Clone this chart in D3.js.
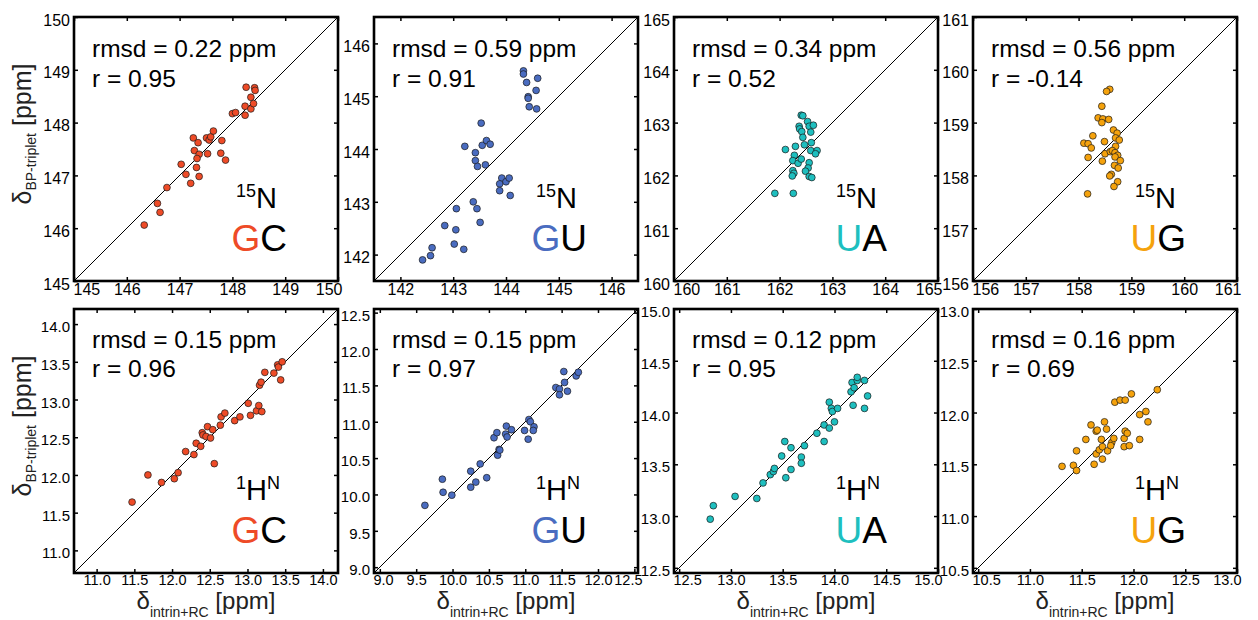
<!DOCTYPE html>
<html>
<head>
<meta charset="utf-8">
<script src="https://cdn.jsdelivr.net/npm/d3@7"></script>
<style>
    body { margin: 0; background: white; }
    text { font-family: "Liberation Sans", Arial, sans-serif; }
</style>
</head>
<body>
<div id="chart"></div>
<script>
// base pairs, colours and statistics, one entry per column
const pairs = ["GC", "GU", "UA", "UG"]
const pairColors = ["#ee4b27", "#4a6cc0", "#1ebfbf", "#f5a20c"]
const rmsdN = [0.22, 0.59, 0.34, 0.56]
const rN = [0.95, 0.91, 0.52, -0.14]
const rmsdH = [0.15, 0.15, 0.12, 0.16]
const rH = [0.96, 0.97, 0.95, 0.69]

// axis limits and tick labels
const limitsN = [[145, 150], [141.5, 146.5], [160, 165], [156, 161]]
const limitsH = [[10.7, 14.2], [8.92, 12.55], [12.45, 15.0], [10.45, 13.0]]
const ticksN = [
    [145, 146, 147, 148, 149, 150],
    [142, 143, 144, 145, 146],
    [160, 161, 162, 163, 164, 165],
    [156, 157, 158, 159, 160, 161]
]
const ticksH = [
    [11.0, 11.5, 12.0, 12.5, 13.0, 13.5, 14.0],
    [9.0, 9.5, 10.0, 10.5, 11.0, 11.5, 12.0, 12.5],
    [12.5, 13.0, 13.5, 14.0, 14.5, 15.0],
    [10.5, 11.0, 11.5, 12.0, 12.5, 13.0]
]

// [delta intrin+RC, delta BP-triplet]
const gcN = [[146.33,146.06],[146.58,146.47],[146.63,146.30],[146.76,146.77],[147.03,147.21],[147.12,147.02],[147.21,146.85],[147.37,146.98],[147.26,147.71],[147.35,147.62],[147.28,147.47],[147.37,147.40],[147.33,147.32],[147.32,147.15],[147.53,147.41],[147.51,147.71],[147.56,147.67],[147.59,147.73],[147.64,147.84],[147.80,147.66],[147.78,147.42],[147.87,147.29],[148.00,148.17],[148.06,148.19],[148.24,148.14],[148.24,148.31],[148.35,148.26],[148.35,148.48],[148.40,148.36],[148.26,148.67],[148.42,148.66],[148.43,148.61]]
const guN = [[142.42,141.90],[142.57,141.98],[142.60,142.13],[142.84,142.55],[143.05,142.47],[143.02,142.20],[143.06,142.87],[143.20,142.10],[143.38,143.00],[143.45,142.87],[143.51,142.61],[143.22,144.05],[143.42,143.93],[143.42,143.78],[143.46,143.67],[143.53,144.49],[143.55,144.07],[143.63,144.16],[143.70,144.09],[143.61,143.70],[143.92,143.45],[143.88,143.34],[143.88,143.21],[144.00,143.38],[144.06,143.45],[144.08,143.12],[144.33,145.48],[144.33,145.42],[144.39,145.26],[144.42,144.99],[144.42,144.96],[144.44,144.80],[144.60,145.34],[144.57,145.11],[144.58,144.76]]
const uaN = [[161.91,161.66],[162.26,161.66],[162.11,162.49],[162.41,163.14],[162.44,163.13],[162.53,163.02],[162.37,162.93],[162.38,162.88],[162.42,162.83],[162.56,162.93],[162.64,162.95],[162.59,162.82],[162.44,162.72],[162.30,162.55],[162.47,162.58],[162.60,162.62],[162.59,162.47],[162.71,162.47],[162.68,162.41],[162.28,162.38],[162.25,162.28],[162.35,162.23],[162.41,162.31],[162.56,162.24],[162.54,162.14],[162.49,162.08],[162.25,162.09],[162.27,162.04],[162.24,161.99],[162.56,161.98],[162.61,161.96]]
const ugN = [[158.17,157.65],[158.59,159.63],[158.53,159.59],[158.44,159.31],[158.37,159.09],[158.46,159.07],[158.57,159.06],[158.44,159.00],[158.66,158.86],[158.73,158.80],[158.70,158.71],[158.77,158.67],[158.27,158.75],[158.10,158.61],[158.18,158.60],[158.24,158.52],[158.49,158.64],[158.18,158.34],[158.50,158.41],[158.60,158.45],[158.70,158.55],[158.64,158.47],[158.69,158.43],[158.74,158.38],[158.69,158.35],[158.79,158.28],[158.45,158.27],[158.68,158.19],[158.75,158.14],[158.62,158.02],[158.59,157.99],[158.74,157.88],[158.67,157.79]]
const gcH = [[11.47,11.64],[11.68,12.00],[11.86,11.90],[12.03,11.95],[12.08,12.03],[12.18,12.31],[12.29,12.27],[12.32,12.42],[12.38,12.38],[12.40,12.56],[12.41,12.53],[12.47,12.64],[12.54,12.60],[12.45,12.51],[12.51,12.49],[12.56,12.15],[12.64,12.66],[12.65,12.77],[12.70,12.82],[12.83,12.72],[12.90,12.77],[13.01,12.95],[13.04,12.79],[13.12,12.85],[13.15,12.92],[13.19,12.84],[13.16,13.19],[13.18,13.23],[13.23,13.36],[13.35,13.35],[13.40,13.46],[13.41,13.43],[13.46,13.50],[13.44,13.26]]
const guH = [[9.62,9.85],[9.86,10.21],[9.87,10.03],[9.99,9.99],[10.25,10.32],[10.25,10.10],[10.32,10.17],[10.38,10.42],[10.47,10.23],[10.57,10.78],[10.61,10.85],[10.62,10.54],[10.64,10.62],[10.65,10.61],[10.74,10.94],[10.73,10.83],[10.75,10.79],[10.81,10.89],[10.99,10.88],[11.04,10.76],[11.05,11.03],[11.07,11.00],[11.12,10.93],[11.11,10.88],[11.42,11.47],[11.47,11.45],[11.47,11.37],[11.53,11.69],[11.54,11.54],[11.58,11.42],[11.70,11.63],[11.73,11.68]]
const uaH = [[12.80,12.97],[12.83,13.10],[13.04,13.19],[13.25,13.17],[13.31,13.32],[13.38,13.40],[13.41,13.43],[13.42,13.46],[13.49,13.58],[13.52,13.72],[13.53,13.37],[13.58,13.66],[13.58,13.45],[13.68,13.57],[13.68,13.51],[13.71,13.68],[13.83,13.80],[13.90,13.88],[13.90,13.72],[13.95,13.85],[13.95,14.10],[13.97,14.04],[13.98,14.01],[14.03,14.04],[14.00,13.91],[14.16,14.20],[14.17,14.29],[14.18,14.07],[14.19,14.24],[14.22,14.31],[14.22,14.34],[14.29,14.31],[14.29,14.04],[14.32,14.16]]
const ugH = [[11.31,11.48],[11.42,11.49],[11.45,11.44],[11.45,11.63],[11.54,11.74],[11.59,11.88],[11.62,11.50],[11.64,11.82],[11.65,11.83],[11.64,11.60],[11.67,11.64],[11.69,11.74],[11.70,11.67],[11.72,11.91],[11.70,11.55],[11.75,11.63],[11.74,11.84],[11.79,11.71],[11.78,11.68],[11.81,11.75],[11.82,12.10],[11.87,12.12],[11.92,12.12],[11.98,12.18],[11.91,11.75],[11.92,11.82],[11.91,11.67],[11.94,11.80],[11.96,11.68],[12.06,11.74],[12.06,11.98],[12.12,12.01],[12.14,11.91],[12.23,12.22]]

const rows = [
    { nucleus: "N", data: [gcN, guN, uaN, ugN], limits: limitsN, ticks: ticksN, rmsd: rmsdN, r: rN, fmt: d3.format("d"), fsY: 16, fsX: 16 },
    { nucleus: "H", data: [gcH, guH, uaH, ugH], limits: limitsH, ticks: ticksH, rmsd: rmsdH, r: rH, fmt: d3.format(".1f"), fsY: 15, fsX: 14.5 }
]

const width = 1258
const height = 620
const size = 264
const colX = [74, 374, 674, 973]
const rowY = [17, 309]

const svg = d3.select("#chart")
    .append("svg")
    .attr("width", width)
    .attr("height", height)

rows.forEach((row, ri) => {
    row.data.forEach((points, ci) => {
        const lim = row.limits[ci]
        const x = d3.scaleLinear().domain(lim).range([0, size])
        const y = d3.scaleLinear().domain(lim).range([size, 0])

        const g = svg.append("g")
            .attr("transform", `translate(${colX[ci]},${rowY[ri]})`)

        const clipId = `clip-${ri}-${ci}`
        g.append("clipPath").attr("id", clipId)
            .append("rect").attr("width", size).attr("height", size)

        g.append("rect")
            .attr("width", size).attr("height", size)
            .attr("fill", "white")

        // y = x reference line
        g.append("line")
            .attr("clip-path", `url(#${clipId})`)
            .attr("x1", x(lim[0])).attr("y1", y(lim[0]))
            .attr("x2", x(lim[1])).attr("y2", y(lim[1]))
            .attr("stroke", "black")
            .attr("stroke-width", 1)

        g.append("g")
            .attr("clip-path", `url(#${clipId})`)
            .selectAll("circle")
            .data(points)
            .join("circle")
            .attr("cx", d => x(d[0]))
            .attr("cy", d => y(d[1]))
            .attr("r", 3.4)
            .attr("fill", pairColors[ci])
            .attr("stroke", "#1a1a1a")
            .attr("stroke-width", 0.7)

        // axes: inward ticks on all four sides, labels left and bottom
        const tv = row.ticks[ci]
        const styleAxis = (a, fs) => {
            a.select(".domain").remove()
            a.selectAll(".tick line").attr("stroke", "black").attr("stroke-width", 1.5)
            a.selectAll("text")
                .attr("font-size", fs)
                .attr("font-family", "'Liberation Sans', Arial, sans-serif")
                .attr("fill", "black")
        }
        g.append("g")
            .call(d3.axisLeft(y).tickValues(tv).tickFormat(row.fmt).tickSizeInner(-4).tickSizeOuter(0).tickPadding(4))
            .call(styleAxis, row.fsY)
            .call(a => a.selectAll("text").attr("dy", "0.5em"))
        g.append("g")
            .attr("transform", `translate(0,${size})`)
            .call(d3.axisBottom(x).tickValues(tv).tickFormat(row.fmt).tickSizeInner(-4).tickSizeOuter(0).tickPadding(ri == 0 ? 3 : 2))
            .call(styleAxis, row.fsX)
            // labels sitting on a corner are pulled inside, clear of the y labels
            .call(a => a.selectAll(".tick text")
                .filter(d => x(d) < 10)
                .attr("text-anchor", "start")
                .attr("x", d => -x(d) - 1))
            .call(a => a.selectAll(".tick text")
                .filter(d => x(d) > size - 6)
                .attr("text-anchor", "end")
                .attr("x", d => size - x(d) + 4))
        g.append("g")
            .call(d3.axisTop(x).tickValues(tv).tickFormat("").tickSizeInner(-4).tickSizeOuter(0))
            .call(styleAxis, row.fsX)
        g.append("g")
            .attr("transform", `translate(${size},0)`)
            .call(d3.axisRight(y).tickValues(tv).tickFormat("").tickSizeInner(-4).tickSizeOuter(0))
            .call(styleAxis, row.fsY)

        g.append("rect")
            .attr("width", size).attr("height", size)
            .attr("fill", "none")
            .attr("stroke", "black")
            .attr("stroke-width", 2.6)

        // statistics
        g.append("text")
            .attr("x", 18).attr("y", ri == 0 ? 40 : 39)
            .attr("font-size", 24.5)
            .text(`rmsd = ${row.rmsd[ci].toFixed(2)} ppm`)
        g.append("text")
            .attr("x", 18).attr("y", ri == 0 ? 70 : 68)
            .attr("font-size", 24.5)
            .text(`r = ${row.r[ci].toFixed(2)}`)

        // nucleus label
        const nuc = g.append("text")
            .attr("x", size - (ri == 0 ? 61 : 58))
            .attr("y", size - 73)
            .attr("text-anchor", "end")
            .attr("font-size", 29)
        if (row.nucleus == "N") {
            nuc.append("tspan").attr("font-size", 18).attr("dy", -11).text("15")
            nuc.append("tspan").attr("dy", 11).text("N")
        } else {
            nuc.append("tspan").attr("font-size", 18).attr("dy", -11).text("1")
            nuc.append("tspan").attr("dy", 11).text("H")
            nuc.append("tspan").attr("font-size", 18).attr("dy", -11).text("N")
        }

        // base pair label
        const bp = g.append("text")
            .attr("x", size - 51)
            .attr("y", size - 30)
            .attr("text-anchor", "end")
            .attr("font-size", 37)
        bp.append("tspan").attr("fill", pairColors[ci]).text(pairs[ci][0])
        bp.append("tspan").attr("fill", "black").text(pairs[ci][1])

        // axis titles
        if (ci == 0) {
            const yl = svg.append("text")
                .attr("transform", `translate(31,${rowY[ri] + size / 2 - 15}) rotate(-90)`)
                .attr("text-anchor", "middle")
                .attr("font-size", 25)
                .attr("fill", "#222")
            yl.append("tspan").text("δ")
            yl.append("tspan").attr("font-size", 14).attr("dy", 5).text("BP-triplet")
            yl.append("tspan").attr("dy", -5).text(" [ppm]")
        }
        if (ri == 1) {
            const xl = svg.append("text")
                .attr("x", colX[ci] + size / 2)
                .attr("y", 609)
                .attr("text-anchor", "middle")
                .attr("font-size", 24)
                .attr("fill", "#222")
            xl.append("tspan").text("δ")
            xl.append("tspan").attr("font-size", 14).attr("dy", 8).text("intrin+RC")
            xl.append("tspan").attr("dy", -8).text(" [ppm]")
        }
    })
})
</script>
</body>
</html>
